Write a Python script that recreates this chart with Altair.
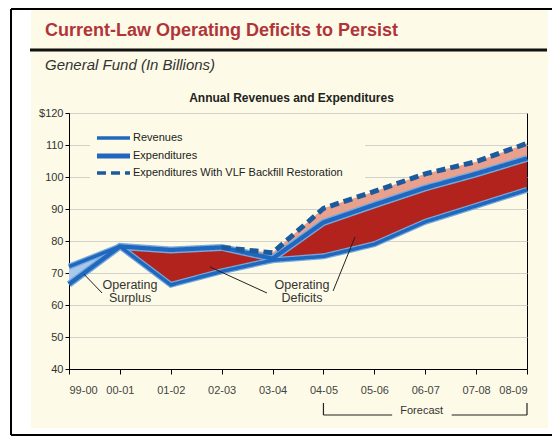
import json
import altair as alt
import pandas as pd

# ---------------- data ----------------
years = ["99-00", "00-01", "01-02", "02-03", "03-04", "04-05", "05-06", "06-07", "07-08", "08-09"]
revenues = [72.0, 78.3, 66.3, 70.5, 74.0, 75.2, 79.0, 86.0, 91.0, 96.0]
expenditures = [66.5, 78.3, 77.2, 78.0, 74.5, 85.8, 91.3, 96.6, 101.0, 105.8]
vlf_expenditures = [None, None, None, 78.0, 76.3, 90.2, 95.5, 101.0, 104.8, 110.5]
series_names = ["Revenues", "Expenditures", "Expenditures With VLF Backfill Restoration"]
y_ticks = [40, 50, 60, 70, 80, 90, 100, 110, 120]

annot_text = ["Operating\nSurplus", "Operating\nDeficits"]
annot_x = [1.2, 4.58]
annot_y = [68.1, 68.1]
leader_x = [0.29, 2.77, 5.19]
leader_y = [69.7, 71.9, 64.4]
leader_x2 = [0.65, 3.89, 5.62]
leader_y2 = [63.75, 63.75, 81.25]
forecast_seg_x = [5.0, 7.52]
forecast_seg_x2 = [6.35, 9.0]
forecast_ticks = [5.0, 9.0]
forecast_label_x = [6.93]

title_text = "Current-Law Operating Deficits to Persist"
subtitle_text = "General Fund (In Billions)"
chart_title_text = "Annual Revenues and Expenditures"

# ---------------- styles ----------------
FONT = "Liberation Sans"
CREAM = "#fdfbe7"
BLUE = "#1f68bd"
DARK_BLUE = "#1c5a9e"
HALO = "#78a9de"
RED = "#b3231d"
PINK = "#e9a08d"
SURPLUS = "#a9c8ea"
series_colors = [BLUE, BLUE, DARK_BLUE]
series_widths = [3.5, 5, 3.5]
series_dashes = [[1, 0], [1, 0], [9, 5]]

idx = list(range(len(years)))
wide = pd.DataFrame({"i": idx, "year": years, "rev": revenues,
                     "exp": expenditures, "vlf": vlf_expenditures})

rows = []
for name, vals in zip(series_names, [revenues, expenditures, vlf_expenditures]):
    for i, v in zip(idx, vals):
        if v is not None:
            rows.append({"i": i, "series": name, "value": v})
long = pd.DataFrame(rows)

xs = alt.Scale(domain=[0, len(years) - 1], nice=False, zero=False)
ys = alt.Scale(domain=[40, 120], nice=False, zero=False)
x_axis = alt.Axis(values=idx, labelExpr=json.dumps(years) + "[datum.value]", grid=False,
                  tickColor="black", tickSize=5, domainColor="black", labelFontSize=11,
                  labelColor="#444", labelPadding=10, title=None, labelFont=FONT)
y_axis = alt.Axis(values=y_ticks, labelExpr="datum.value == 120 ? '$120' : datum.label",
                  gridColor="#d2d2ca", tickColor="black", tickSize=4, domainColor="black",
                  labelFontSize=11, labelColor="#333", labelPadding=2, title=None, labelFont=FONT)


def X(f):
    return alt.X(f, scale=xs, axis=x_axis)


def Y(f):
    return alt.Y(f, scale=ys, axis=y_axis)


base = alt.Chart(wide)
surplus = base.transform_filter("datum.i <= 1").mark_area(color=SURPLUS, opacity=1).encode(
    x=X("i:Q"), y=Y("rev:Q"), y2="exp:Q")
deficit = base.transform_filter("datum.i >= 1").mark_area(color=RED, opacity=1).encode(
    x=X("i:Q"), y=Y("exp:Q"), y2="rev:Q")
vlf_area = base.transform_filter("datum.i >= 3").mark_area(color=PINK, opacity=1).encode(
    x=X("i:Q"), y=Y("vlf:Q"), y2="exp:Q")

halo_rev = alt.Chart(long).transform_filter(f"datum.series == '{series_names[0]}'").mark_line(
    color=HALO, strokeWidth=6).encode(x=X("i:Q"), y=Y("value:Q"))
halo_exp = alt.Chart(long).transform_filter(f"datum.series == '{series_names[1]}'").mark_line(
    color=HALO, strokeWidth=7).encode(x=X("i:Q"), y=Y("value:Q"))

lines = alt.Chart(long).mark_line().encode(
    x=X("i:Q"), y=Y("value:Q"),
    color=alt.Color("series:N", scale=alt.Scale(domain=series_names, range=series_colors), legend=None),
    strokeWidth=alt.StrokeWidth("series:N", scale=alt.Scale(domain=series_names, range=series_widths),
                                legend=None),
    strokeDash=alt.StrokeDash("series:N", scale=alt.Scale(domain=series_names, range=series_dashes),
                              legend=None),
)

# ---------------- legend (drawn as marks, upper left of plot) ----------------
one = pd.DataFrame({"a": [0]})
legend_layers = [alt.Chart(one).mark_rect(color=CREAM).encode(
    x=alt.value(21), x2=alt.value(296), y=alt.value(15), y2=alt.value(69))]
legend_row_y = [25, 43, 60]
for name, col, w, d, ry in zip(series_names, series_colors, series_widths, series_dashes, legend_row_y):
    legend_layers.append(alt.Chart(pd.DataFrame({"t": [name]})).mark_rule(
        color=col, strokeWidth=w, strokeDash=d).encode(
        x=alt.value(28), x2=alt.value(61), y=alt.value(ry)))
    legend_layers.append(alt.Chart(pd.DataFrame({"t": [name]})).mark_text(
        fontSize=11, font=FONT, color="#222", align="left", baseline="middle").encode(
        x=alt.value(64), y=alt.value(ry), text="t:N"))

annots = alt.Chart(pd.DataFrame({"x": annot_x, "y": annot_y, "t": annot_text})).mark_text(
    lineBreak="\n", fontSize=12.5, font=FONT, align="center", baseline="top", lineHeight=13,
    color="#333").encode(x=X("x:Q"), y=Y("y:Q"), text="t:N")
leaders = alt.Chart(pd.DataFrame({"x": leader_x, "y": leader_y, "x2": leader_x2, "y2": leader_y2})).mark_rule(
    color="#222", strokeWidth=1).encode(x=X("x:Q"), y=Y("y:Q"), x2="x2:Q", y2="y2:Q")

fc_h = alt.Chart(pd.DataFrame({"x": forecast_seg_x, "x2": forecast_seg_x2})).mark_rule(
    color="#222", strokeWidth=1.2).encode(x=X("x:Q"), x2="x2:Q", y=alt.value(302))
fc_v = alt.Chart(pd.DataFrame({"x": forecast_ticks})).mark_rule(
    color="#222", strokeWidth=1.2).encode(x=X("x:Q"), y=alt.value(290), y2=alt.value(302))
fc_t = alt.Chart(pd.DataFrame({"x": forecast_label_x, "t": ["Forecast"]})).mark_text(
    fontSize=11, font=FONT, color="#333", baseline="middle").encode(
    x=X("x:Q"), y=alt.value(298), text="t:N")

white_left = alt.Chart(one).mark_rect(color="white").encode(
    x=alt.value(-61), x2=alt.value(-38), y=alt.value(-105), y2=alt.value(323))
white_bottom = alt.Chart(one).mark_rect(color="white").encode(
    x=alt.value(-61), x2=alt.value(483), y=alt.value(315), y2=alt.value(323))
white_right = alt.Chart(one).mark_rect(color="white").encode(
    x=alt.value(479), x2=alt.value(483), y=alt.value(-105), y2=alt.value(323))
frame_left = alt.Chart(one).mark_rule(color="black", strokeWidth=2).encode(
    x=alt.value(-58), y=alt.value(-104), y2=alt.value(322))
frame_top = alt.Chart(one).mark_rule(color="black", strokeWidth=2).encode(
    x=alt.value(-58), x2=alt.value(483), y=alt.value(-104))
frame_bottom = alt.Chart(one).mark_rule(color="black", strokeWidth=2).encode(
    x=alt.value(-58), x2=alt.value(483), y=alt.value(322))
title_rule = alt.Chart(one).mark_rule(color="#111", strokeWidth=3).encode(
    x=alt.value(-39), x2=alt.value(478), y=alt.value(-63))

title_mark = alt.Chart(pd.DataFrame({"t": [title_text]})).mark_text(
    fontSize=18, font=FONT, fontWeight="bold", color="#b0343a",
    align="left", baseline="alphabetic").encode(x=alt.value(-24), y=alt.value(-77), text="t:N")
subtitle_mark = alt.Chart(pd.DataFrame({"t": [subtitle_text]})).mark_text(
    fontSize=15, font=FONT, fontStyle="italic", color="#333", align="left", baseline="middle").encode(
    x=alt.value(-24), y=alt.value(-48), text="t:N")
chart_title_mark = alt.Chart(pd.DataFrame({"t": [chart_title_text]})).mark_text(
    fontSize=12, font=FONT, fontWeight="bold", color="#222", align="center", baseline="middle").encode(
    x=alt.value(222.5), y=alt.value(-15), text="t:N")

chart = alt.layer(
    white_left, white_bottom, white_right, frame_left, frame_top, frame_bottom, title_rule,
    title_mark, subtitle_mark, chart_title_mark,
    *legend_layers,
    surplus, deficit, vlf_area, halo_rev, halo_exp, lines, leaders, annots, fc_h, fc_v, fc_t,
).properties(
    width=458, height=256,
    padding={"left": 61, "top": 105, "right": 25, "bottom": 67},
    autosize=alt.AutoSizeParams(type="none"),
    background=CREAM,
).configure_view(fill=CREAM, stroke="black", strokeWidth=1)

chart.save("out.html", embed_options={"renderer": "svg", "actions": False})
